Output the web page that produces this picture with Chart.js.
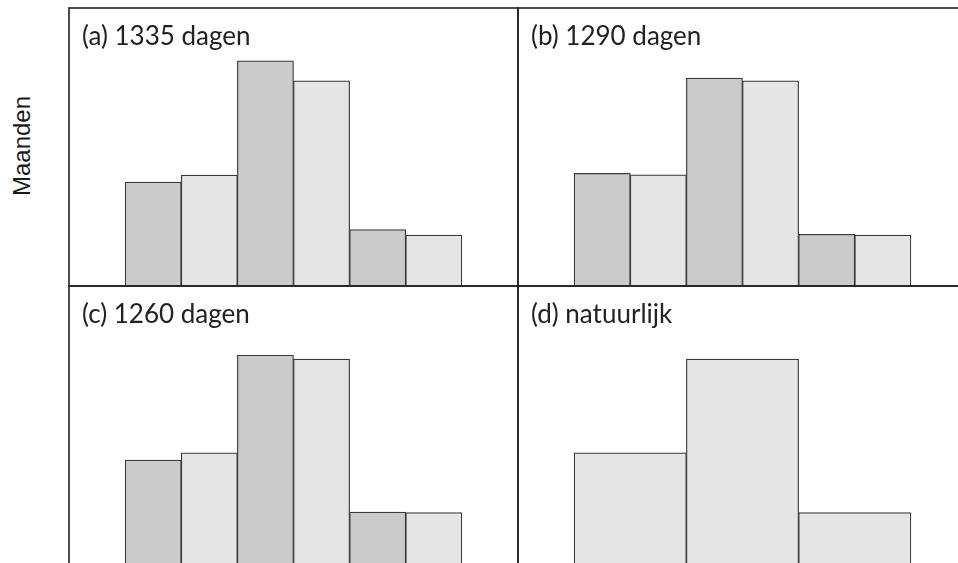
<!DOCTYPE html>
<html>
<head>
<meta charset="utf-8">
<script src="https://cdn.jsdelivr.net/npm/chart.js@4.4.1/dist/chart.umd.min.js"></script>
<style>
  html, body { margin: 0; padding: 0; background: #fff; overflow: hidden; width: 958px; height: 563px; }
  .panel { position: absolute; width: 453px; height: 282px; }
  #ylabel {
    position: absolute; left: 22px; top: 146px;
    transform: translate(-50%, -50%) rotate(-90deg);
    font: 24px "Liberation Sans", Arial, sans-serif; color: #1a1a1a; white-space: nowrap;
  }
</style>
</head>
<body>
<div id="ylabel">Maanden</div>
<div class="panel" style="left:67px;top:6px;"><canvas id="chartA"></canvas></div>
<div class="panel" style="left:516px;top:6px;"><canvas id="chartB"></canvas></div>
<div class="panel" style="left:67px;top:284px;"><canvas id="chartC"></canvas></div>
<div class="panel" style="left:516px;top:284px;"><canvas id="chartD"></canvas></div>
<script>
// Data: bar heights (y runs 0..100 over the panel height)
const SLOT_LABELS    = ["", "1", "2", "3", "4", "5", "6", ""];
const NATURAL_LABELS = ["", "I", "II", "III", ""];

const VALUES_A = [null, 37.4, 39.9, 81.0, 73.8, 20.3, 18.3, null];
const VALUES_B = [null, 40.5, 40.0, 74.8, 73.8, 18.6, 18.3, null];
const VALUES_C = [null, 37.4, 40.0, 75.1, 73.7, 18.7, 18.5, null];
const VALUES_D = [null, 40.0, 73.7, 18.5, null];

const TITLES = ["(a) 1335 dagen", "(b) 1290 dagen", "(c) 1260 dagen", "(d) natuurlijk"];

const Y_MAX = 100;

// Colours
const DARK_FILL  = "#cbcbcb";
const LIGHT_FILL = "#e5e5e5";
const EDGE       = "#3a3a3a";
const FRAME      = "#222222";

const SLOT_FILLS = [LIGHT_FILL, DARK_FILL, LIGHT_FILL, DARK_FILL, LIGHT_FILL, DARK_FILL, LIGHT_FILL, LIGHT_FILL];


// Plugin: frame around the plot area plus the panel caption in the top-left corner
const panelFrame = {
  id: "panelFrame",
  afterDatasetsDraw(chart, args, opts) {
    const { ctx, chartArea } = chart;
    ctx.save();
    ctx.strokeStyle = FRAME;
    ctx.lineWidth   = 1.6;
    ctx.strokeRect(chartArea.left, chartArea.top, chartArea.right - chartArea.left, chartArea.bottom - chartArea.top);
    ctx.fillStyle    = "#222";
    ctx.font         = '26px "Lato", "Open Sans", sans-serif';
    ctx.textBaseline = "alphabetic";
    ctx.fillText(opts.caption, chartArea.left + 13, chartArea.top + 37);
    ctx.restore();
  }
};


function makePanel(canvasId, labels, values, fills, caption, offset) {
  return new Chart(document.getElementById(canvasId), {
    type: "bar",
    data: {
      labels: labels,
      datasets: [{
        data:               values,
        backgroundColor:    fills,
        borderColor:        EDGE,
        borderWidth:        1.2,
        categoryPercentage: 1,
        barPercentage:      1,
      }],
    },
    options: {
      responsive:          true,
      maintainAspectRatio: false,
      animation:           false,
      layout: { padding: 2 },
      plugins: {
        legend:     { display: false },
        tooltip:    { enabled: false },
        panelFrame: { caption: caption },
      },
      scales: {
        x: { display: false, offset: offset },
        y: { display: false, min: 0, max: Y_MAX },
      },
    },
    plugins: [panelFrame],
  });
}

makePanel("chartA", SLOT_LABELS, VALUES_A, SLOT_FILLS, TITLES[0], true);
makePanel("chartB", SLOT_LABELS, VALUES_B, SLOT_FILLS, TITLES[1], true);
makePanel("chartC", SLOT_LABELS, VALUES_C, SLOT_FILLS, TITLES[2], true);
// natural year: three wide bars centred on the inner ticks of an unpadded axis
makePanel("chartD", NATURAL_LABELS, VALUES_D, LIGHT_FILL, TITLES[3], false);
</script>
</body>
</html>
